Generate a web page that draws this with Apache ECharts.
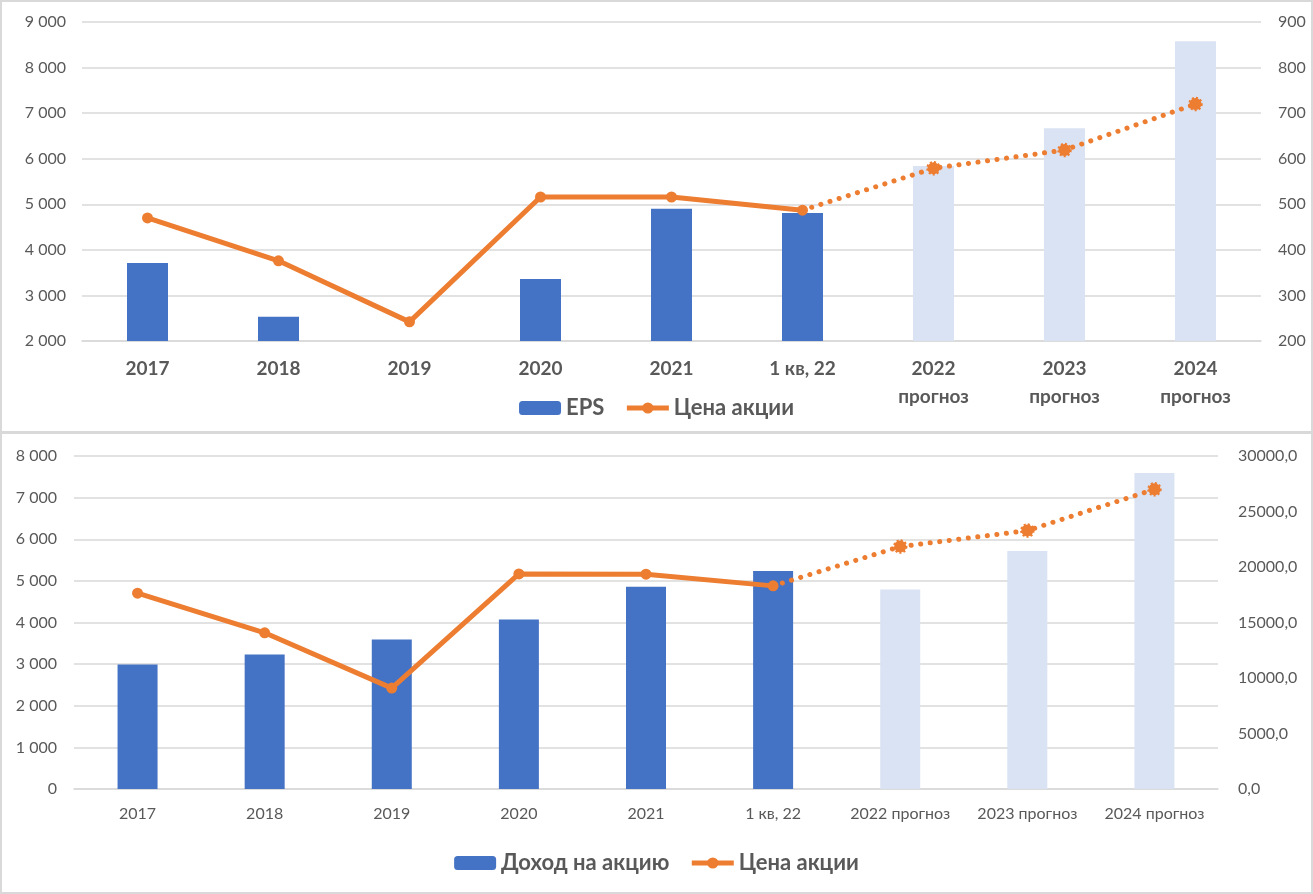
<!DOCTYPE html>
<html>
<head>
<meta charset="utf-8">
<script src="https://cdn.jsdelivr.net/npm/echarts@6/dist/echarts.min.js"></script>
<style>
  html, body { margin: 0; padding: 0; background: #fff; }
  #wrap { position: relative; width: 1313px; height: 894px; overflow: hidden; }
  #top { position: absolute; left: 0; top: 0; width: 1313px; height: 432px; }
  #bottom { position: absolute; left: 0; top: 432px; width: 1313px; height: 462px; }
  .frame { position: absolute; border: 2px solid #d9d9d9; box-sizing: border-box; pointer-events: none; }
</style>
</head>
<body>
<div id="wrap">
  <div id="top"></div>
  <div id="bottom"></div>
  <div class="frame" style="left:0;top:0;width:1313px;height:434px;"></div>
  <div class="frame" style="left:0;top:431px;width:1313px;height:463px;"></div>
</div>
<script>
// ---------- data ----------
const categories = ['2017', '2018', '2019', '2020', '2021', '1 кв, 22', '2022 прогноз', '2023 прогноз', '2024 прогноз'];
const isForecast = [false, false, false, false, false, false, true, true, true];
const lastActualIndex = 5;

// top chart
const epsValues = [3710, 2530, null, 3360, 4900, 4810, 5840, 6670, 8580];
const priceTop = [470, 376, 242, 516, 516, 487, 579, 619, 720];
const topLeftTicks = { min: 2000, max: 9000, interval: 1000 };
const topRightTicks = { min: 200, max: 900, interval: 100 };

// bottom chart
const incomeValues = [2990, 3230, 3590, 4070, 4860, 5240, 4790, 5720, 7590];
const priceBottom = [17640, 14070, 9090, 19380, 19350, 18300, 21840, 23280, 27000];
const bottomLeftTicks = { min: 0, max: 8000, interval: 1000 };
const bottomRightTicks = { min: 0, max: 30000, interval: 5000 };

// ---------- style ----------
const FONT = 'Lato';
const TXT = '#595959';
const GRID = '#d9d9d9';
const BLUE = '#4472C4';
const LIGHT = '#DAE3F3';
const ORANGE = '#ED7D31';

function spaceThousands(v) {
  return String(v).replace(/\B(?=(\d{3})+(?!\d))/g, ' ');
}
function commaOneDecimal(v) {
  return v.toFixed(1).replace('.', ',');
}
function barData(values) {
  return values.map((v, i) => ({
    value: v,
    itemStyle: { color: isForecast[i] ? LIGHT : BLUE }
  }));
}
function actualLine(values) {
  return values.map((v, i) => (i <= lastActualIndex ? v : null));
}
function forecastLine(values) {
  return values.map((v, i) => {
    if (i < lastActualIndex) return null;
    if (i === lastActualIndex) return { value: v, symbol: 'none' };
    return v;
  });
}

function buildOption(cfg) {
  return {
    animation: false,
    textStyle: { fontFamily: FONT },
    grid: cfg.grid,
    legend: {
      data: [
        { name: cfg.barName },
        { name: 'Цена акции', lineStyle: { width: 5 }, itemStyle: { color: ORANGE } }
      ],
      top: cfg.legendTop,
      left: 'center',
      itemWidth: 42,
      itemHeight: 14,
      itemGap: 20,
      textStyle: { fontFamily: FONT, fontSize: 22, fontWeight: 'bold', color: TXT }
    },
    xAxis: {
      type: 'category',
      data: categories,
      axisLine: { lineStyle: { color: GRID, width: 1.5 } },
      axisTick: { show: false },
      axisLabel: cfg.xLabel
    },
    yAxis: [
      {
        type: 'value',
        min: cfg.leftTicks.min, max: cfg.leftTicks.max, interval: cfg.leftTicks.interval,
        axisLine: { show: false }, axisTick: { show: false },
        splitLine: { lineStyle: { color: GRID, width: 1.5 } },
        axisLabel: { color: TXT, fontSize: 16, fontFamily: FONT, margin: cfg.leftMargin, formatter: spaceThousands }
      },
      {
        type: 'value',
        min: cfg.rightTicks.min, max: cfg.rightTicks.max, interval: cfg.rightTicks.interval,
        axisLine: { show: false }, axisTick: { show: false },
        splitLine: { show: false },
        axisLabel: { color: TXT, fontSize: 16, fontFamily: FONT, margin: cfg.rightMargin, formatter: cfg.rightFormatter }
      }
    ],
    series: [
      {
        name: cfg.barName,
        type: 'bar',
        barWidth: cfg.barWidth,
        itemStyle: { color: BLUE },
        data: barData(cfg.barValues),
        z: 2
      },
      {
        name: 'Цена акции',
        type: 'line',
        yAxisIndex: 1,
        symbol: 'circle',
        symbolSize: 11,
        itemStyle: { color: ORANGE },
        lineStyle: { color: ORANGE, width: 5 },
        data: actualLine(cfg.priceValues),
        z: 4
      },
      {
        name: 'Цена акции (прогноз)',
        type: 'line',
        yAxisIndex: 1,
        symbol: 'circle',
        symbolSize: 12,
        itemStyle: { color: ORANGE, borderColor: ORANGE, borderWidth: 2.5, borderType: [2, 2] },
        lineStyle: { color: ORANGE, width: 5, type: [0.1, 9.5], cap: 'round' },
        data: forecastLine(cfg.priceValues),
        z: 3
      }
    ]
  };
}

const topChart = echarts.init(document.getElementById('top'), null, { renderer: 'canvas' });
topChart.setOption(buildOption({
  grid: { left: 82, right: 52, top: 22, height: 319 },
  legendTop: 392,
  barName: 'EPS',
  barValues: epsValues,
  priceValues: priceTop,
  barWidth: 41,
  leftTicks: topLeftTicks,
  rightTicks: topRightTicks,
  leftMargin: 16,
  rightMargin: 17,
  rightFormatter: v => String(v),
  xLabel: {
    color: TXT, fontSize: 19, fontWeight: 'bold', fontFamily: FONT, margin: 14, lineHeight: 28,
    interval: 0,
    formatter: v => v.replace(' прогноз', '\nпрогноз')
  }
}));

const bottomChart = echarts.init(document.getElementById('bottom'), null, { renderer: 'canvas' });
bottomChart.setOption(buildOption({
  grid: { left: 74, right: 95, top: 24, height: 333 },
  legendTop: 415,
  barName: 'Доход на акцию',
  barValues: incomeValues,
  priceValues: priceBottom,
  barWidth: 40,
  leftTicks: bottomLeftTicks,
  rightTicks: bottomRightTicks,
  leftMargin: 17,
  rightMargin: 20,
  rightFormatter: commaOneDecimal,
  xLabel: { color: TXT, fontSize: 16, fontFamily: FONT, margin: 17, interval: 0 }
}));
</script>
</body>
</html>
